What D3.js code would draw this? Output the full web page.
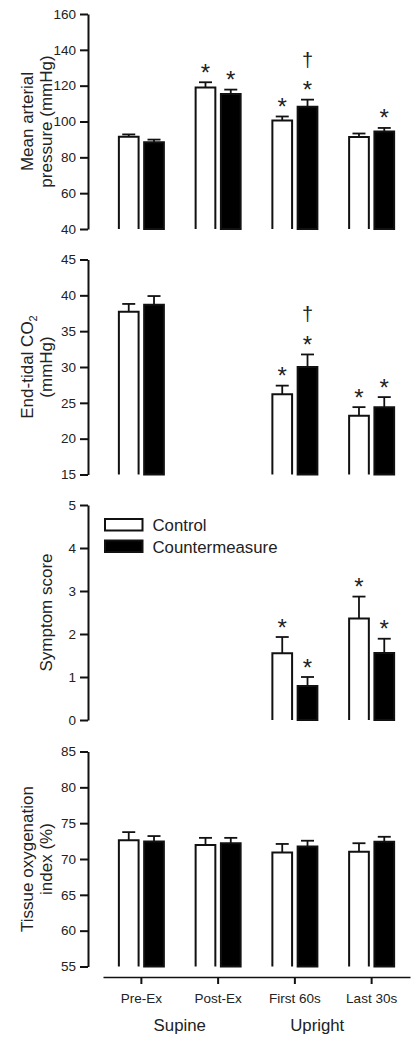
<!DOCTYPE html>
<html>
<head>
<meta charset="utf-8">
<script src="https://cdn.jsdelivr.net/npm/d3@7"></script>
<style>
  html, body { margin: 0; padding: 0; background: #fff; }
  svg { display: block; font-family: "Liberation Sans", Arial, sans-serif; }
</style>
</head>
<body>
<svg id="chart" width="417" height="1048"></svg>
<script>
// ---------- DATA ----------
const categories = ["Pre-Ex", "Post-Ex", "First 60s", "Last 30s"];
const seriesNames = ["Control", "Countermeasure"];
const groupLabels = ["Supine", "Upright"];

// Mean arterial pressure (mmHg)
const mapControl = [91.5, 119.0, 100.5, 91.4];
const mapControlErr = [1.3, 2.9, 2.3, 1.9];
const mapCounter = [88.4, 115.3, 108.2, 94.4];
const mapCounterErr = [1.5, 2.5, 4.0, 2.0];
const mapControlSig = ["", "*", "*", ""];
const mapCounterSig = ["", "*", "*†", "*"];
const mapTicks = [40, 60, 80, 100, 120, 140, 160];

// End-tidal CO2 (mmHg)
const etco2Control = [37.7, null, 26.2, 23.2];
const etco2ControlErr = [1.1, null, 1.2, 1.2];
const etco2Counter = [38.7, null, 30.0, 24.4];
const etco2CounterErr = [1.2, null, 1.75, 1.4];
const etco2ControlSig = ["", "", "*", "*"];
const etco2CounterSig = ["", "", "*†", "*"];
const etco2Ticks = [15, 20, 25, 30, 35, 40, 45];

// Symptom score
const symControl = [null, null, 1.55, 2.36];
const symControlErr = [null, null, 0.38, 0.51];
const symCounter = [null, null, 0.79, 1.56];
const symCounterErr = [null, null, 0.21, 0.33];
const symControlSig = ["", "", "*", "*"];
const symCounterSig = ["", "", "*", "*"];
const symTicks = [0, 1, 2, 3, 4, 5];

// Tissue oxygenation index (%)
const toiControl = [72.6, 71.95, 70.9, 71.0];
const toiControlErr = [1.15, 1.0, 1.2, 1.2];
const toiCounter = [72.45, 72.2, 71.75, 72.4];
const toiCounterErr = [0.75, 0.75, 0.8, 0.7];
const toiControlSig = ["", "", "", ""];
const toiCounterSig = ["", "", "", ""];
const toiTicks = [55, 60, 65, 70, 75, 80, 85];

// ---------- PANELS ----------
const panels = [
  { label: ["Mean arterial", "pressure (mmHg)"], ticks: mapTicks,
    series: [[mapControl, mapControlErr, mapControlSig], [mapCounter, mapCounterErr, mapCounterSig]] },
  { label: ["End-tidal CO|2", "(mmHg)"], ticks: etco2Ticks,
    series: [[etco2Control, etco2ControlErr, etco2ControlSig], [etco2Counter, etco2CounterErr, etco2CounterSig]] },
  { label: ["Symptom score"], ticks: symTicks, legend: true,
    series: [[symControl, symControlErr, symControlSig], [symCounter, symCounterErr, symCounterSig]] },
  { label: ["Tissue oxygenation", "index (%)"], ticks: toiTicks,
    series: [[toiControl, toiControlErr, toiControlSig], [toiCounter, toiCounterErr, toiCounterSig]] }
];

// ---------- LAYOUT ----------
const svg = d3.select("#chart");
const axisX = 88;
const panelTops = [14, 259.5, 505, 751.5];
const panelH = 215;
const ink = "#111";

const x = d3.scaleBand().domain(categories).range([103, 410]).padding(0);
const xIn = d3.scaleBand().domain(seriesNames).range([-22.5, 22.5]).paddingInner(0.22);
const fills = { "Control": "#fff", "Countermeasure": "#000" };

panels.forEach((p, pi) => {
  const top = panelTops[pi];
  const y = d3.scaleLinear().domain(d3.extent(p.ticks)).range([top + panelH, top]);
  const g = svg.append("g");

  // y axis
  const ax = g.append("g").attr("transform", `translate(${axisX},0)`)
    .call(d3.axisLeft(y).tickValues(p.ticks).tickFormat(d3.format("d"))
      .tickSize(8).tickSizeOuter(0).tickPadding(4));
  ax.selectAll("path.domain").attr("stroke", ink).attr("stroke-width", 2);
  ax.selectAll(".tick line").attr("stroke", ink).attr("stroke-width", 2);
  ax.selectAll(".tick text").attr("fill", "#222").attr("font-size", "13.5px")
    .attr("font-family", "Liberation Sans, Arial, sans-serif");

  // bars
  p.series.forEach((s, si) => {
    const name = seriesNames[si];
    const [vals, errs, sigs] = s;
    const w = xIn.bandwidth();
    categories.forEach((c, ci) => {
      const v = vals[ci];
      if (v == null) return;
      const cx = x(c) + x.bandwidth() / 2 + xIn(name);
      const y0 = y.range()[0];
      const yv = y(v);
      const ye = y(v + errs[ci]);
      const mid = cx + w / 2;
      // error bar
      g.append("line").attr("x1", mid).attr("x2", mid).attr("y1", yv).attr("y2", ye)
        .attr("stroke", ink).attr("stroke-width", 1.8);
      g.append("line").attr("x1", mid - 6.5).attr("x2", mid + 6.5).attr("y1", ye).attr("y2", ye)
        .attr("stroke", ink).attr("stroke-width", 1.8);
      // bar: open bottom
      g.append("path")
        .attr("d", `M${cx},${y0}V${yv}H${cx + w}V${y0}` + (name === "Countermeasure" ? "Z" : ""))
        .attr("fill", fills[name]).attr("stroke", ink).attr("stroke-width", 2);
      // significance marks
      const sig = sigs[ci];
      if (sig && sig.includes("*")) {
        g.append("text").attr("x", mid).attr("y", ye - 1.5).attr("text-anchor", "middle")
          .attr("font-size", "24px").attr("fill", "#222").text("*");
      }
      if (sig && sig.includes("†")) {
        g.append("text").attr("x", mid).attr("y", ye - 33).attr("text-anchor", "middle")
          .attr("font-size", "20px").attr("fill", "#222").text("†");
      }
    });
  });

  // y label
  const cy = top + panelH / 2;
  const lab = g.append("text").attr("transform", `translate(0,${cy}) rotate(-90)`)
    .attr("text-anchor", "middle").attr("font-size", "17px").attr("fill", "#222");
  if (p.label.length === 2) {
    p.label.forEach((ln, li) => {
      const t = lab.append("tspan").attr("x", 0).attr("y", li === 0 ? 33 : 52);
      if (ln.includes("|")) {
        const [a, b] = ln.split("|");
        t.append("tspan").text(a);
        t.append("tspan").attr("font-size", "11px").attr("dy", 4).text(b);
      } else t.text(ln);
    });
  } else {
    lab.append("tspan").attr("x", 0).attr("y", 52).text(p.label[0]);
  }

  // legend
  if (p.legend) {
    const lg = g.append("g");
    seriesNames.forEach((n, i) => {
      lg.append("rect").attr("x", 105).attr("y", 519 + i * 21.5).attr("width", 37.5).attr("height", 11.5)
        .attr("fill", fills[n]).attr("stroke", ink).attr("stroke-width", 2);
      lg.append("text").attr("x", 152.5).attr("y", 531 + i * 21.5).attr("font-size", "16.8px")
        .attr("fill", "#222").text(n);
    });
  }
});

// ---------- X AXIS ----------
const xa = svg.append("g").attr("transform", "translate(0,977)")
  .call(d3.axisBottom(x).tickSize(7).tickSizeOuter(0).tickPadding(9));
xa.selectAll("path.domain").attr("stroke", ink).attr("stroke-width", 1.5);
xa.selectAll(".tick line").attr("stroke", ink).attr("stroke-width", 2);
xa.selectAll(".tick text").attr("fill", "#222").attr("font-size", "13.5px")
  .attr("font-family", "Liberation Sans, Arial, sans-serif");

const c = categories.map(k => x(k) + x.bandwidth() / 2);
svg.append("text").attr("x", (c[0] + c[1]) / 2).attr("y", 1031).attr("text-anchor", "middle")
  .attr("font-size", "16.8px").attr("fill", "#222").text(groupLabels[0]);
svg.append("text").attr("x", (c[2] + c[3]) / 2 - 16).attr("y", 1031).attr("text-anchor", "middle")
  .attr("font-size", "16.8px").attr("fill", "#222").text(groupLabels[1]);
</script>
</body>
</html>
